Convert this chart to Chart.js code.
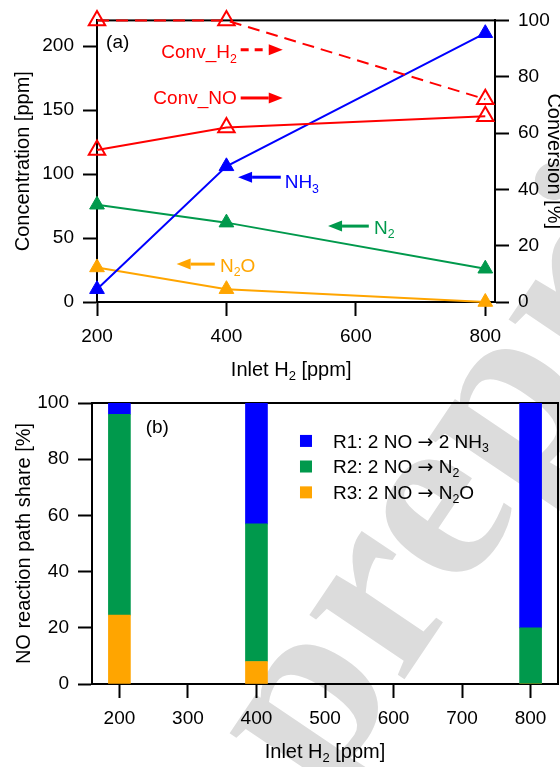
<!DOCTYPE html>
<html>
<head>
<meta charset="utf-8">
<script src="https://cdn.jsdelivr.net/npm/chart.js@4.4.0/dist/chart.umd.min.js"></script>
<style>
html, body { margin: 0; padding: 0; background: #fff; overflow: hidden; }
#wrap { position: relative; width: 560px; height: 767px; }
#bg { position: absolute; left: 0; top: 0; }
#chartA { position: absolute; left: 0; top: 0; }
#chartB { position: absolute; left: 0; top: 380px; }
</style>
</head>
<body>
<div id="wrap">
  <canvas id="bg" width="560" height="767"></canvas>
  <canvas id="chartA" width="560" height="390"></canvas>
  <canvas id="chartB" width="560" height="387"></canvas>
</div>
<script>
// ------------------------------
// Data
// ------------------------------

// panel (a)
const inletA = [200, 400, 800];
const convH2 = [100, 100, 72];
const convNO = [54, 62, 66];
const nh3 = [10, 106, 210];
const n2 = [76, 62, 26];
const n2o = [27, 10, 0];

const xTicksA = [200, 400, 600, 800];
const concTicks = [0, 50, 100, 150, 200];
const convTicks = [0, 20, 40, 60, 80, 100];

// panel (b)
const inletB = [200, 400, 800];
const shareR1 = [4, 43, 80];
const shareR2 = [71.5, 49, 20];
const shareR3 = [24.5, 8, 0];

const xTicksB = [200, 300, 400, 500, 600, 700, 800];
const shareTicks = [0, 20, 40, 60, 80, 100];

// legend texts, [text, isSubscript, fontFamily]
const ARROW_FONT = "'DejaVu Sans', sans-serif";
const reactionLabels = [
    [["R1: 2 NO "], ["\u2192", 0, ARROW_FONT], [" 2 NH"], ["3", 1]],
    [["R2: 2 NO "], ["\u2192", 0, ARROW_FONT], [" N"], ["2", 1]],
    [["R3: 2 NO "], ["\u2192", 0, ARROW_FONT], [" N"], ["2", 1], ["O"]]
];

// ------------------------------
// Style
// ------------------------------

const FONT = "'Liberation Sans', Arial, sans-serif";
const RED = "#ff0000";
const BLUE = "#0000ff";
const GREEN = "#00994c";
const ORANGE = "#ffa500";

function fontStr(size, family){
    return size + "px " + (family || FONT);
}

// text with subscripts, y = cap centre
function drawRich(ctx, parts, x, y, align, size, color){
    ctx.save();
    ctx.fillStyle = color;
    ctx.textBaseline = "alphabetic";
    const widths = parts.map(function(p){
        ctx.font = fontStr(p[1] ? size * 0.65 : size, p[2]);
        return ctx.measureText(p[0]).width;
    });
    const total = widths.reduce((a, b) => a + b, 0);
    let cx = align === "right" ? x - total : align === "center" ? x - total / 2 : x;
    const base = y + size * 0.358;
    parts.forEach(function(p, i){
        ctx.font = fontStr(p[1] ? size * 0.65 : size, p[2]);
        ctx.fillText(p[0], cx, p[1] ? base + size * 0.22 : base);
        cx += widths[i];
    });
    ctx.restore();
}

function drawArrow(ctx, x1, x2, y, color, dashed){
    const head = 14, half = 5.5;
    const dir = Math.sign(x2 - x1);
    ctx.save();
    ctx.strokeStyle = color;
    ctx.fillStyle = color;
    ctx.lineWidth = 3;
    if(dashed){ ctx.setLineDash([8, 6]); }
    ctx.beginPath();
    ctx.moveTo(x1, y);
    ctx.lineTo(x2 - dir * head, y);
    ctx.stroke();
    ctx.setLineDash([]);
    ctx.beginPath();
    ctx.moveTo(x2, y);
    ctx.lineTo(x2 - dir * head, y - half);
    ctx.lineTo(x2 - dir * head, y + half);
    ctx.closePath();
    ctx.fill();
    ctx.restore();
}

function linearAxis(pos, min, max, tickVals, size, title, titlePad){
    return {
        type: "linear",
        position: pos,
        min: min,
        max: max,
        offset: false,
        afterBuildTicks: function(s){ s.ticks = tickVals.map(v => ({value: v})); },
        afterFit: function(s){
            if(pos === "bottom"){ s.height = size; } else { s.width = size; }
        },
        border: {display: true, color: "#000", width: 2},
        grid: {offset: false, drawOnChartArea: false, drawTicks: true, tickLength: 14, tickWidth: 2, tickColor: "#000"},
        ticks: {color: "#000", font: {family: FONT, size: 19}, padding: 9, maxRotation: 0},
        title: {
            display: !!title,
            text: title || "",
            color: "#000",
            font: {family: FONT, size: 20, lineHeight: 1.2},
            padding: {top: titlePad, bottom: 0}
        }
    };
}

// box around the plot area, under the data
const framePlugin = {
    id: "frame",
    beforeDatasetsDraw: function(chart){
        const a = chart.chartArea;
        const ctx = chart.ctx;
        ctx.save();
        ctx.strokeStyle = "#000";
        ctx.lineWidth = 2;
        ctx.strokeRect(a.left, a.top, a.right - a.left, a.bottom - a.top);
        ctx.restore();
    }
};

// x title "Inlet H2 [ppm]" centred on the tick range
function xTitlePlugin(ticks, baseY){
    return {
        id: "xtitle",
        afterDraw: function(chart){
            const x = chart.scales.x;
            const mid = x.getPixelForValue((ticks[0] + ticks[ticks.length - 1]) / 2);
            drawRich(chart.ctx, [["Inlet H"], ["2", 1], [" [ppm]"]], mid, baseY - 20 * 0.358, "center", 20, "#000");
        }
    };
}

// ------------------------------
// Watermark
// ------------------------------

const bg = document.getElementById("bg").getContext("2d");
bg.save();
bg.translate(323, 800);
bg.rotate(-56 * Math.PI / 180);
bg.font = "bold 250px 'Liberation Serif', serif";
bg.fillStyle = "#dcdcdc";
bg.fillText("preprint", 0, 0);
bg.restore();

// ------------------------------
// Panel (a)
// ------------------------------

const notesA = [
    {parts: [["(a)"]], color: "#000", x: 214, y: 204, align: "left"},
    {parts: [["Conv_H"], ["2", 1]], color: RED, x: 416, y: 195.6, align: "right", arrow: {from: 422, to: 487, y: 197.1, dash: true}},
    {parts: [["Conv_NO"]], color: RED, x: 416, y: 159.7, align: "right", arrow: {from: 422, to: 487, y: 159.4}},
    {parts: [["NH"], ["3", 1]], color: BLUE, x: 490, y: 94, align: "left", arrow: {from: 484, to: 418, y: 97.5}},
    {parts: [["N"], ["2", 1]], color: GREEN, x: 628, y: 58.5, align: "left", arrow: {from: 620, to: 557, y: 59.3}},
    {parts: [["N"], ["2", 1], ["O"]], color: ORANGE, x: 390, y: 28.9, align: "left", arrow: {from: 382, to: 323, y: 29.6}}
];

const notesPluginA = {
    id: "notesA",
    afterDatasetsDraw: function(chart){
        const x = chart.scales.x;
        const y = chart.scales.conc;
        const ctx = chart.ctx;
        notesA.forEach(function(n){
            drawRich(ctx, n.parts, x.getPixelForValue(n.x), y.getPixelForValue(n.y), n.align, 19, n.color);
            if(n.arrow){
                drawArrow(ctx, x.getPixelForValue(n.arrow.from), x.getPixelForValue(n.arrow.to),
                    y.getPixelForValue(n.arrow.y), n.color, n.arrow.dash);
            }
        });
    }
};

function pts(xs, ys){
    return xs.map((x, i) => ({x: x, y: ys[i]}));
}

function lineSet(label, ys, axis, color, open, dash){
    return {
        label: label,
        data: pts(inletA, ys),
        yAxisID: axis,
        borderColor: color,
        borderWidth: 2,
        borderDash: dash || [],
        tension: 0,
        pointStyle: "triangle",
        pointRadius: open ? 9.5 : 8.5,
        pointBorderWidth: open ? 2 : 1,
        pointBorderColor: color,
        pointBackgroundColor: open ? "rgba(0,0,0,0)" : color,
        clip: false
    };
}

new Chart(document.getElementById("chartA"), {
    type: "line",
    data: {
        datasets: [
            lineSet("Conv_H2", convH2, "conv", RED, true, [12, 7]),
            lineSet("Conv_NO", convNO, "conv", RED, true),
            lineSet("NH3", nh3, "conc", BLUE, false),
            lineSet("N2", n2, "conc", GREEN, false),
            lineSet("N2O", n2o, "conc", ORANGE, false)
        ]
    },
    options: {
        responsive: false,
        animation: false,
        layout: {padding: {top: 20, left: 0, right: 0, bottom: 0}},
        plugins: {legend: {display: false}, tooltip: {enabled: false}},
        scales: {
            x: linearAxis("bottom", 200, 815, xTicksA, 88),
            conc: linearAxis("left", 0, 220, concTicks, 97, "Concentration [ppm]", 11),
            conv: linearAxis("right", 0, 100, convTicks, 65, "Conversion [%]", -5.5)
        }
    },
    plugins: [framePlugin, notesPluginA, xTitlePlugin(xTicksA, 376)]
});

// ------------------------------
// Panel (b)
// ------------------------------

const legendB = {boxX: 463.5, textX: 511.7, rows: [86.5, 77.4, 68.2], box: 12};
const legendColors = [BLUE, GREEN, ORANGE];

const notesPluginB = {
    id: "notesB",
    afterDatasetsDraw: function(chart){
        const x = chart.scales.x;
        const y = chart.scales.y;
        const ctx = chart.ctx;
        drawRich(ctx, [["(b)"]], x.getPixelForValue(238.4), y.getPixelForValue(91.8), "left", 19, "#000");
        reactionLabels.forEach(function(parts, i){
            const cy = y.getPixelForValue(legendB.rows[i]);
            const bx = x.getPixelForValue(legendB.boxX);
            ctx.fillStyle = legendColors[i];
            ctx.fillRect(bx, cy - legendB.box / 2, legendB.box, legendB.box);
            drawRich(ctx, parts, x.getPixelForValue(legendB.textX), cy, "left", 19, "#000");
        });
    }
};

function barSet(label, ys, color){
    return {
        label: label,
        data: pts(inletB, ys),
        backgroundColor: color,
        borderWidth: 0,
        barThickness: 22
    };
}

const xB = linearAxis("bottom", 160, 840, xTicksB, 83);
xB.stacked = true;
const yB = linearAxis("left", 0, 100, shareTicks, 92, "NO reaction path share [%]", 12);
yB.stacked = true;

new Chart(document.getElementById("chartB"), {
    type: "bar",
    data: {
        datasets: [
            barSet("R3", shareR3, ORANGE),
            barSet("R2", shareR2, GREEN),
            barSet("R1", shareR1, BLUE)
        ]
    },
    options: {
        responsive: false,
        animation: false,
        layout: {padding: {top: 23, left: 0, right: 2, bottom: 0}},
        plugins: {legend: {display: false}, tooltip: {enabled: false}},
        scales: {x: xB, y: yB}
    },
    plugins: [framePlugin, notesPluginB, xTitlePlugin(xTicksB, 378)]
});
</script>
</body>
</html>
